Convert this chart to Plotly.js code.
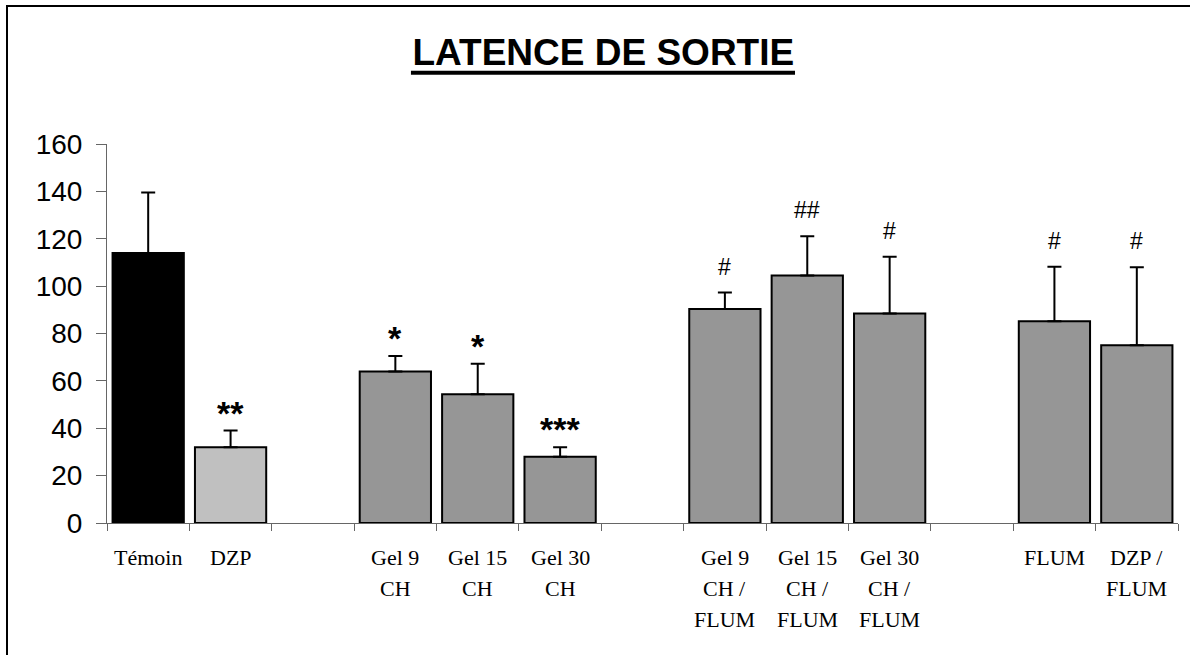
<!DOCTYPE html>
<html><head><meta charset="utf-8">
<script src="https://cdn.plot.ly/plotly-3.0.1.min.js"></script>
<style>
html,body{margin:0;padding:0;background:#fff;}
#chart{width:1190px;height:655px;}
#frame{position:absolute;left:6px;top:5px;width:1184px;height:650px;border-left:2px solid #000;border-top:2px solid #000;pointer-events:none;box-sizing:border-box;}
</style>
</head><body>
<div id="chart"></div><div id="frame"></div>
<script>
// ---- data ----
const categories = ['Témoin','DZP',' ','Gel 9 CH','Gel 15 CH','Gel 30 CH','  ','Gel 9 CH / FLUM','Gel 15 CH / FLUM','Gel 30 CH / FLUM','   ','FLUM','DZP / FLUM'];
const tickLines = [['Témoin'],['DZP'],[],['Gel 9','CH'],['Gel 15','CH'],['Gel 30','CH'],[],['Gel 9','CH /','FLUM'],['Gel 15','CH /','FLUM'],['Gel 30','CH /','FLUM'],[],['FLUM'],['DZP /','FLUM']];
const means  = [114, 32, null, 64, 54.4, 28, null, 90.3, 104.5, 88.4, null, 85.2, 75];
const errors = [25.5, 7, null, 6.5, 12.8, 4, null, 7, 16.6, 24, null, 23, 33];
const signif = ['', '**', '', '*', '*', '***', '', '#', '##', '#', '', '#', '#'];
const barColors = ['#000000','#c0c0c0','#969696','#969696','#969696','#969696','#969696','#969696','#969696','#969696','#969696','#969696','#969696'];

// ---- styles ----
const SANS = '"Liberation Sans", Arial, sans-serif';
const SERIF = '"Liberation Serif", "Times New Roman", serif';

const trace = {
  type: 'bar',
  x: categories,
  y: means,
  marker: {color: barColors, line: {color: '#000', width: 2}},
  error_y: {type: 'data', symmetric: false, array: errors, arrayminus: errors.map(() => 0),
            color: '#000', thickness: 2, width: 7},
  hoverinfo: 'x+y'
};

const annotations = [];
categories.forEach((c, i) => {
  tickLines[i].forEach((line, j) => {
    annotations.push({
      x: c, xref: 'x', y: 0, yref: 'paper', yanchor: 'middle', xanchor: 'center',
      yshift: -34 - j * 31, showarrow: false, text: line,
      font: {family: SERIF, size: 22, color: '#000', weight: 'normal'}
    });
  });
  if (signif[i]) {
    const hash = signif[i].indexOf('#') >= 0;
    annotations.push({
      x: c, xref: 'x', y: means[i] + errors[i], yref: 'y', yanchor: 'bottom', xanchor: 'center',
      yshift: hash ? 11 : -3, showarrow: false, text: signif[i],
      font: {family: SANS, size: hash ? 23 : 34, color: '#000', weight: hash ? 'normal' : 'bold'}
    });
  }
});

const layout = {
  width: 1190, height: 655,
  margin: {l: 107, r: 12, t: 144, b: 132, pad: 0},
  paper_bgcolor: '#fff', plot_bgcolor: '#fff',
  showlegend: false,
  bargap: 0.135,
  title: {text: 'LATENCE DE SORTIE', x: 0.507, xref: 'container', xanchor: 'center',
          y: 0.921, yref: 'container', yanchor: 'middle',
          font: {family: SANS, size: 37, color: '#000', weight: 'bold'}},
  shapes: [{type: 'line', xref: 'paper', yref: 'paper', x0: 0.2838, x1: 0.6424, y0: 1.188, y1: 1.188,
            line: {color: '#000', width: 4}}],
  xaxis: {type: 'category', range: [-0.5, 12.5], tickson: 'boundaries', ticks: 'outside', ticklen: 7,
          tickcolor: '#666', tickwidth: 1, showline: true, linecolor: '#666', linewidth: 1,
          showticklabels: false, showgrid: false, zeroline: false, fixedrange: true},
  yaxis: {range: [0, 160], dtick: 20, ticks: 'outside', ticklen: 10, tickcolor: '#666', tickwidth: 1,
          showline: true, linecolor: '#666', linewidth: 1, showgrid: false, zeroline: false,
          tickfont: {family: SANS, size: 28, color: '#000'}, ticklabelstandoff: 8, fixedrange: true},
  annotations: annotations
};

Plotly.newPlot('chart', [trace], layout, {displayModeBar: false, staticPlot: true});
</script>
</body></html>
